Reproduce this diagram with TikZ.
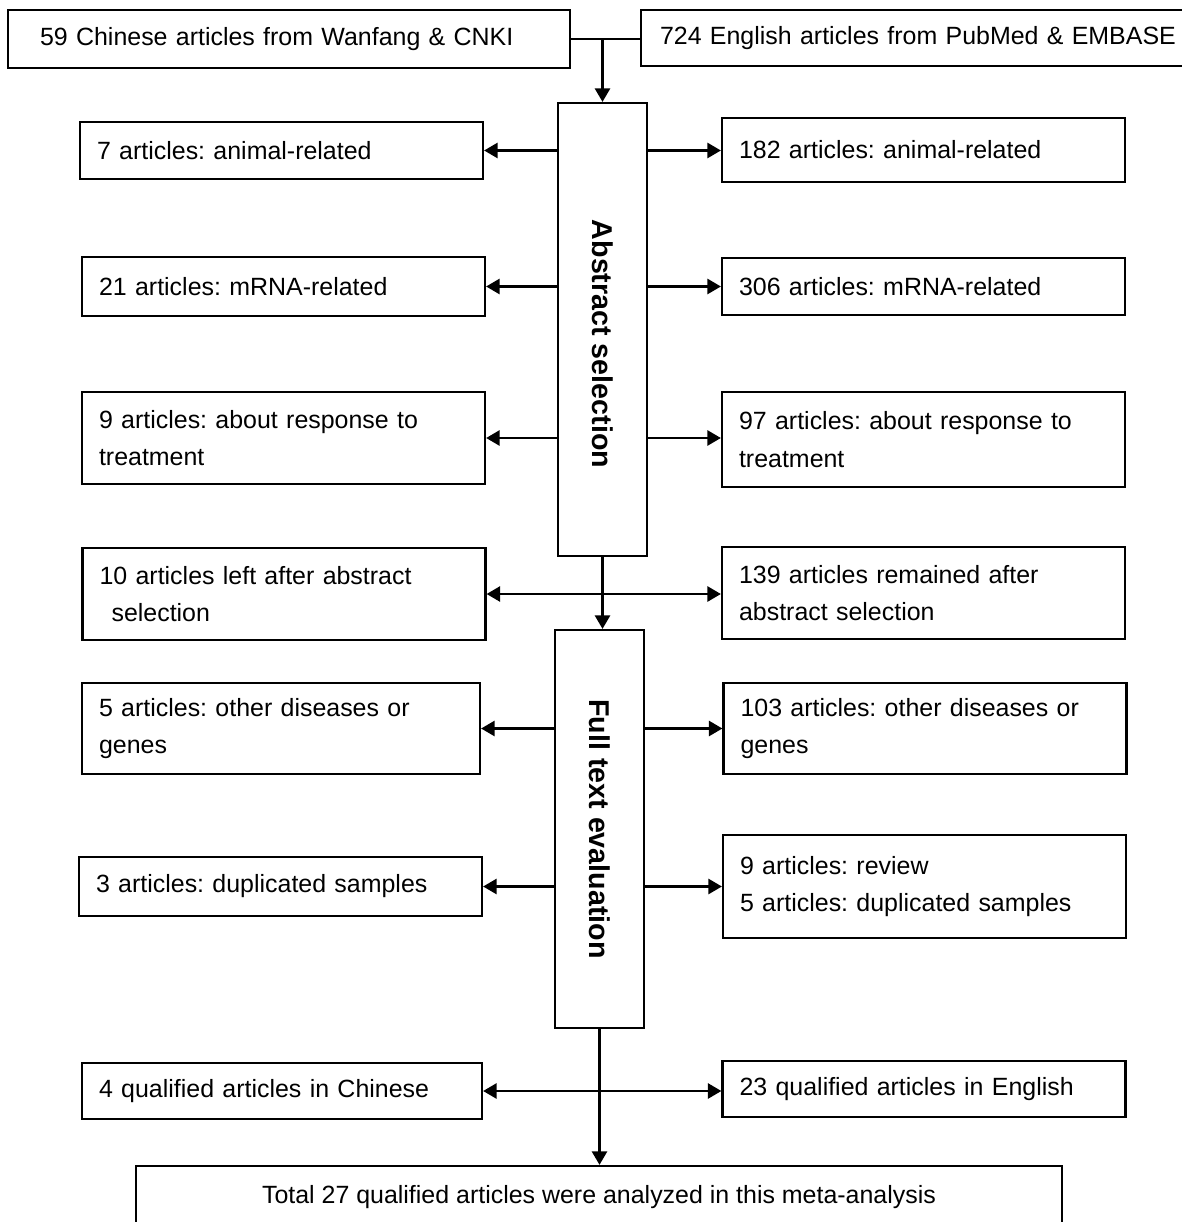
\documentclass[tikz,border=0pt]{standalone}
\usepackage{fontspec}
\setmainfont{Liberation Sans}
\usetikzlibrary{arrows.meta}
\frenchspacing

\tikzset{
  box/.style = {draw, line width=1.3pt, inner xsep=0.34cm, inner ysep=0pt,
                align=left, font=\fontsize{14.2}{21.5}\selectfont},
  sidebox/.style = {box, text width=7.38cm},
  stagebox/.style = {draw, line width=1.3pt, minimum width=1.78cm},
  stagelabel/.style = {rotate=-90, font=\fontsize{16.3}{19}\selectfont\bfseries},
  arr/.style = {line width=1.5pt, -{Triangle[length=0.27cm,width=0.3cm]}},
  arrb/.style = {line width=1.5pt, {Triangle[length=0.27cm,width=0.3cm]}-{Triangle[length=0.27cm,width=0.3cm]}},
}

\begin{document}
\begin{tikzpicture}[x=0.02cm, y=-0.02cm]
  \useasboundingbox (0,0) rectangle (1181,1222);

  % sources
  \node[box, inner xsep=0.64cm, text width=9.96cm, minimum height=1.16cm] (chn) at (289,39) {59 Chinese articles from Wanfang \& CNKI};
  \node[box, inner xsep=0.38cm, text width=10.32cm, minimum height=1.12cm] (eng) at (918,38) {724 English articles from PubMed \& EMBASE};

  % abstract selection
  \node[stagebox, minimum height=9.06cm] (abs) at (602.5,329.5) {};
  \node[stagelabel] (abslbl) at (602.5,344) {Abstract selection};

  \node[sidebox, minimum height=1.14cm] (la1) at (281.5,150.5) {7 articles: animal-related};
  \node[sidebox, minimum height=1.18cm] (la2) at (283.5,286.5) {21 articles: mRNA-related};
  \node[sidebox, minimum height=1.84cm] (la3) at (283.5,438) {9 articles: about response to\\treatment};
  \node[sidebox, minimum height=1.28cm] (ra1) at (923.5,150) {182 articles: animal-related};
  \node[sidebox, minimum height=1.14cm] (ra2) at (923.5,286.5) {306 articles: mRNA-related};
  \node[sidebox, minimum height=1.9cm] (ra3) at (923.5,439.5) {97 articles: about response to\\treatment};

  \node[sidebox, minimum height=1.84cm] (lleft) at (284,594) {10 articles left after abstract\\\hspace*{0.24cm}selection};
  \node[sidebox, minimum height=1.84cm] (rleft) at (923.5,593) {139 articles remained after\\abstract selection};

  % full text evaluation
  \node[stagebox, minimum height=7.96cm] (ful) at (599.5,829) {};
  \node[stagelabel] (fullbl) at (599.5,829) {Full text evaluation};

  \node[sidebox, text width=7.28cm, minimum height=1.82cm] (lf1) at (281,728.5) {5 articles: other diseases or\\genes};
  \node[sidebox, minimum height=1.82cm] (rf1) at (925,728.5) {103 articles: other diseases or\\genes};
  \node[sidebox, minimum height=1.18cm] (lf2) at (280.5,886.5) {3 articles: duplicated samples};
  \node[sidebox, minimum height=2.06cm] (rf2) at (924.5,886.5) {9 articles: review\\5 articles: duplicated samples};

  \node[sidebox, text width=7.32cm, minimum height=1.12cm] (lq) at (282,1091) {4 qualified articles in Chinese};
  \node[sidebox, minimum height=1.12cm] (rq) at (924,1089) {23 qualified articles in English};

  \node[box, align=center, minimum width=18.52cm, minimum height=1.24cm] (tot) at (599,1197) {Total 27 qualified articles were analyzed in this meta-analysis};

  % connectors
  \coordinate (jt) at (chn.east -| abs.north);
  \draw[line width=1.5pt] (chn.east) -- (chn.east -| eng.west);
  \draw[arr] (jt) -- (abs.north);

  \draw[arr] (abs.west |- la1) -- (la1.east);
  \draw[arr] (abs.west |- la2) -- (la2.east);
  \draw[arr] (abs.west |- la3) -- (la3.east);
  \draw[arr] (abs.east |- la1) -- (ra1.west |- la1);
  \draw[arr] (abs.east |- la2) -- (ra2.west |- la2);
  \draw[arr] (abs.east |- la3) -- (ra3.west |- la3);

  \draw[arr] (abs.south) -- (abs.south |- ful.north);
  \draw[arrb] (lleft.east) -- (lleft.east -| rleft.west);

  \draw[arr] (ful.west |- lf1) -- (lf1.east);
  \draw[arr] (ful.west |- lf2) -- (lf2.east);
  \draw[arr] (ful.east |- lf1) -- (rf1.west |- lf1);
  \draw[arr] (ful.east |- lf2) -- (rf2.west |- lf2);

  \draw[arrb] (lq.east) -- (lq.east -| rq.west);
  \draw[arr] (ful.south) -- (ful.south |- tot.north);
\end{tikzpicture}
\end{document}
